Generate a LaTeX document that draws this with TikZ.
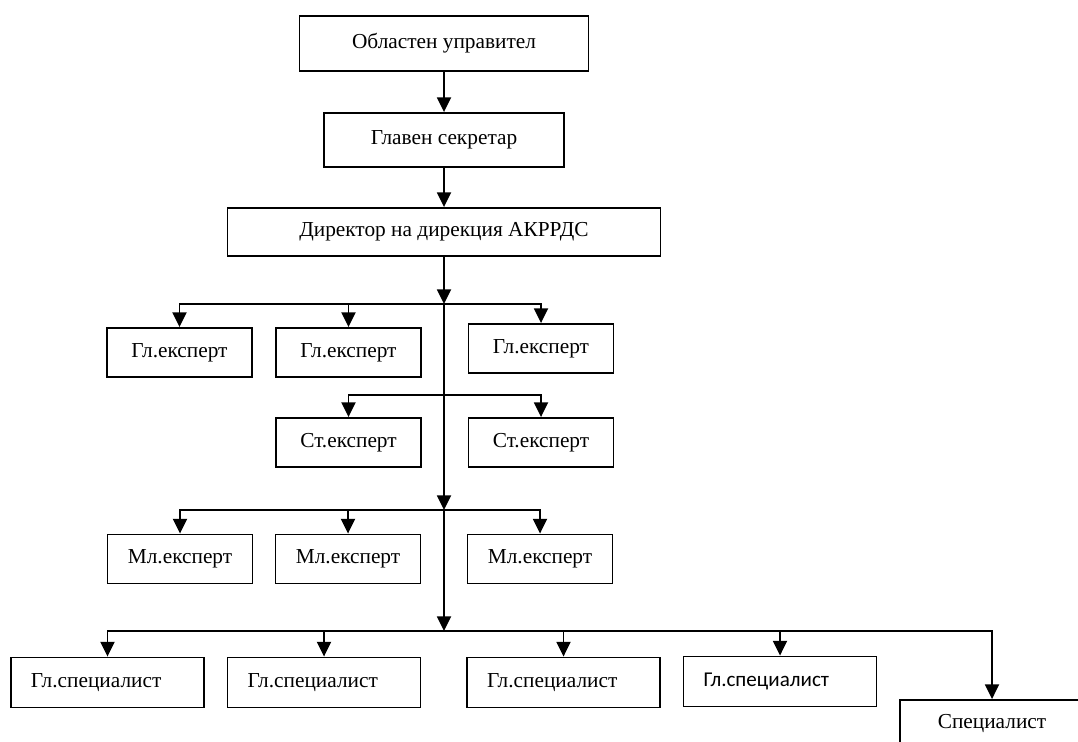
\documentclass[tikz,border=0pt]{standalone}
\usepackage{fontspec}
\setmainfont{Liberation Serif}
\newfontfamily\calibrifont{Carlito}
\usetikzlibrary{arrows.meta}

\begin{document}
\begin{tikzpicture}[x=0.75pt, y=-0.75pt, >={Triangle[width=10.5pt, length=11pt]}, line width=1.4pt,
        box/.style={draw, rectangle, inner sep=0pt, font=\fontsize{16}{19}\selectfont},
        expbox/.style={box, minimum width=108.75pt, minimum height=36.75pt},
        specbox/.style={box, inner xsep=15pt, text width=114.75pt, align=left, minimum height=37.5pt}]
        \clip (0, 0) rectangle (1078, 742);
        \useasboundingbox (0, 0) rectangle (1078, 742);
        % top of the chart
        \node[box, minimum width=216.75pt, minimum height=41.25pt] (gov) at (444, 43.5) {Областен управител};
        \node[box, minimum width=180pt, minimum height=40.5pt] (sec) at (444, 140) {Главен секретар};
        \node[box, minimum width=324.75pt, minimum height=36pt] (dir) at (444, 232) {Директор на дирекция АКРРДС};
        \coordinate (j1) at (444, 304);
        \coordinate (j2) at (444, 395);
        \coordinate (j3) at (444, 510);
        \coordinate (j4) at (444, 631);
        % experts
        \node[expbox] (ge1) at (179.5, 352.5) {Гл.експерт};
        \node[expbox] (ge2) at (348.5, 352.5) {Гл.експерт};
        \node[expbox] (ge3) at (541, 348.5) {Гл.експерт};
        \node[expbox] (se1) at (348.5, 442.5) {Ст.експерт};
        \node[expbox] (se2) at (541, 442.5) {Ст.експерт};
        \foreach \n/\x in {1/180, 2/348, 3/540} {
            \node[expbox] (ml\n) at (\x, 559) {Мл.експерт};
        };
        % specialists
        \node[specbox] (gs1) at (107.5, 682.5) {Гл.специалист};
        \node[specbox] (gs2) at (324, 682.5) {Гл.специалист};
        \node[specbox] (gs3) at (563.5, 682.5) {Гл.специалист};
        \node[specbox, font=\calibrifont\fontsize{15.8}{18}\selectfont] (gs4) at (780, 681.5) {Гл.специалист};
        \node[box, minimum width=138pt, minimum height=34.5pt] (sp) at (992, 723) {Специалист};
        % connectors
        \draw[->] (gov) -- (sec);
        \draw[->] (sec) -- (dir);
        \draw[->] (dir) -- (j1);
        \draw[->] (j1) -- (j3);
        \draw[->] (j3) -- (j4);
        \foreach \b in {ge1, ge2, ge3} {
            \draw[->] (j1) -| (\b);
        };
        \foreach \b in {se1, se2} {
            \draw[->] (j2) -| (\b);
        };
        \foreach \b in {ml1, ml2, ml3} {
            \draw[->] (j3) -| (\b);
        };
        \foreach \b in {gs1, gs2, gs3, gs4, sp} {
            \draw[->] (j4) -| (\b);
        };
    \end{tikzpicture}
\end{document}
